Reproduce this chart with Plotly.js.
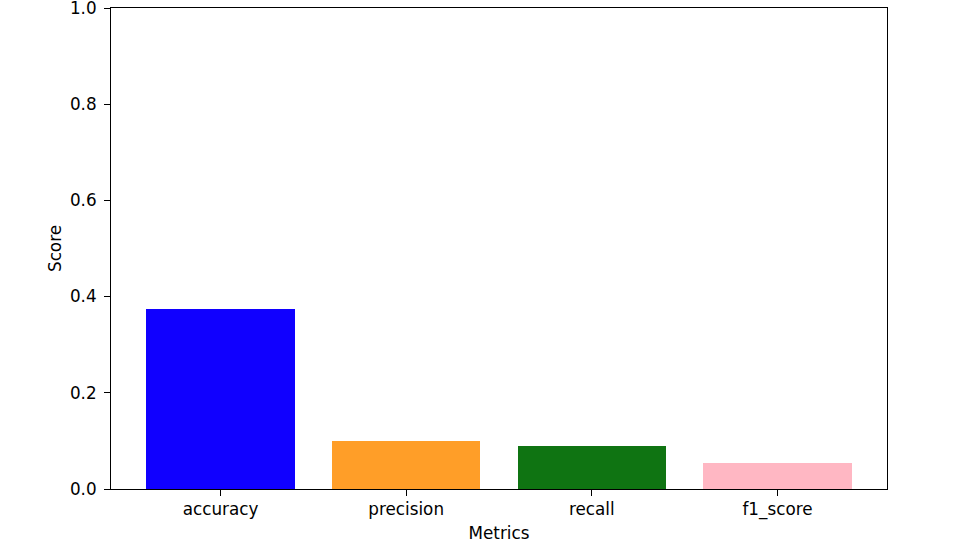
<!DOCTYPE html>
<html>
<head>
<meta charset="utf-8">
<script src="https://cdn.plot.ly/plotly-3.0.1.min.js"></script>
<style>html,body{margin:0;padding:0;background:#fff;}#chart{width:956px;height:548px;}</style>
</head>
<body>
<div id="chart"></div>
<script>
const metrics = ["accuracy", "precision", "recall", "f1_score"];
const scores = [0.375, 0.099, 0.089, 0.055];
const barColors = ["#1000ff", "#ff9e28", "#0f7412", "#ffb7c3"];
const yTickVals = [0, 0.2, 0.4, 0.6, 0.8, 1.0];
const yTickText = ["0.0", "0.2", "0.4", "0.6", "0.8", "1.0"];

const font = {family: "DejaVu Sans, sans-serif", size: 16.8, color: "#000"};
Plotly.newPlot("chart", [{
  type: "bar",
  x: [0, 1, 2, 3],
  y: scores,
  width: 0.8,
  marker: {color: barColors, line: {width: 0}},
  hoverinfo: "x+y"
}], {
  width: 956, height: 548,
  margin: {l: 111, r: 69, t: 8, b: 59},
  paper_bgcolor: "#fff", plot_bgcolor: "#fff",
  font: font,
  showlegend: false,
  bargap: 0,
  xaxis: {
    range: [-0.59, 3.59],
    tickmode: "array", tickvals: [0, 1, 2, 3], ticktext: metrics,
    ticks: "outside", ticklen: 6, tickwidth: 1, tickcolor: "#000",
    ticklabelstandoff: -1,
    showgrid: false, zeroline: false,
    showline: true, linecolor: "#000", linewidth: 1, mirror: true,
    title: {text: "Metrics", font: font, standoff: 8},
    tickfont: font,
    automargin: false
  },
  yaxis: {
    range: [0, 1],
    tickmode: "array", tickvals: yTickVals, ticktext: yTickText,
    ticks: "outside", ticklen: 6, tickwidth: 1, tickcolor: "#000",
    ticklabelstandoff: 4,
    ticklabeloverflow: "allow",
    showgrid: false, zeroline: false,
    showline: true, linecolor: "#000", linewidth: 1, mirror: true,
    title: {text: "Score", font: font, standoff: 4},
    tickfont: font,
    automargin: false
  }
}, {displayModeBar: false, staticPlot: true});
</script>
</body>
</html>
